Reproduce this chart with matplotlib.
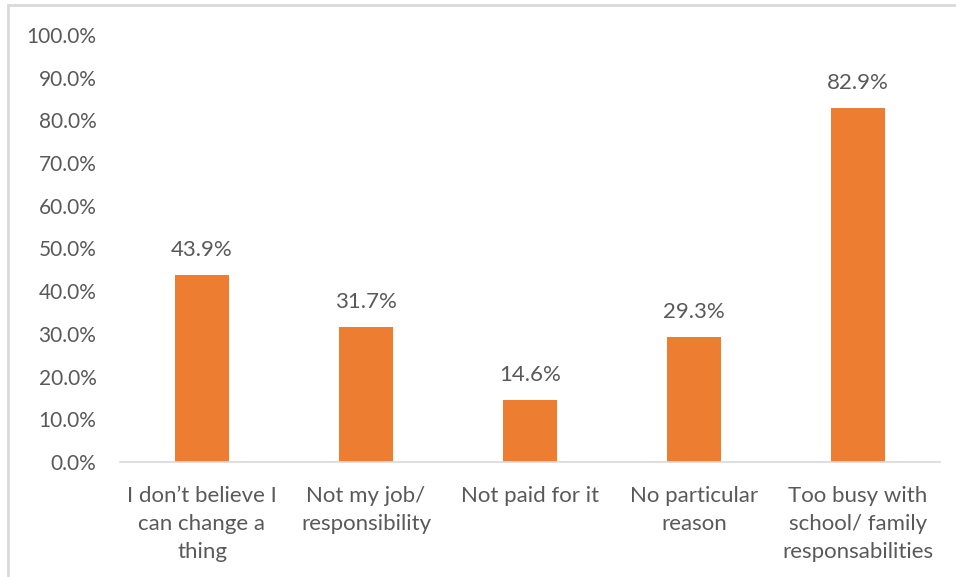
import matplotlib.pyplot as plt
from matplotlib.patches import Rectangle
from matplotlib.ticker import FuncFormatter, MultipleLocator

categories = [
    "I don\u2019t believe I\ncan change a\nthing",
    "Not my job/\nresponsibility",
    "Not paid for it",
    "No particular\nreason",
    "Too busy with\nschool/ family\nresponsabilities",
]
values = [43.9, 31.7, 14.6, 29.3, 82.9]

BAR_COLOR = "#ED7D31"
TEXT_COLOR = "#595959"

plt.rcParams["font.family"] = ["Lato", "DejaVu Sans"]

fig = plt.figure(figsize=(9.56, 5.77), dpi=100)
ax = fig.add_axes([120 / 956, 1 - 462 / 577, 820 / 956, 427 / 577])

x = range(len(categories))
bars = ax.bar(x, values, width=0.33, color=BAR_COLOR, zorder=2)

for bar, v in zip(bars, values):
    ax.annotate(f"{v:.1f}%", (bar.get_x() + bar.get_width() / 2, v),
                xytext=(0, 18), textcoords="offset points",
                ha="center", va="center", fontsize=16, color=TEXT_COLOR)

ax.set_xlim(-0.5, len(categories) - 0.5)
ax.set_ylim(0, 100)
ax.yaxis.set_major_locator(MultipleLocator(10))
ax.yaxis.set_major_formatter(FuncFormatter(lambda v, _: f"{v:.1f}%"))

ax.set_xticks(list(x))
ax.set_xticklabels(categories, linespacing=1.5, va="top", fontsize=16)

for side in ["top", "right", "left"]:
    ax.spines[side].set_visible(False)
ax.spines["bottom"].set_color("#D9D9D9")
ax.spines["bottom"].set_linewidth(1.2)

ax.tick_params(axis="both", length=0, labelcolor=TEXT_COLOR)
ax.tick_params(axis="y", labelsize=15, pad=17)
ax.tick_params(axis="x", pad=17)

# light frame around the chart area
fig.patches.append(Rectangle((8 / 956, -0.1), 1.2, 1 - 5 / 577 + 0.1,
                             transform=fig.transFigure, fill=False,
                             edgecolor="#D9D9D9", linewidth=2))

fig.savefig("out.png", dpi=100)
